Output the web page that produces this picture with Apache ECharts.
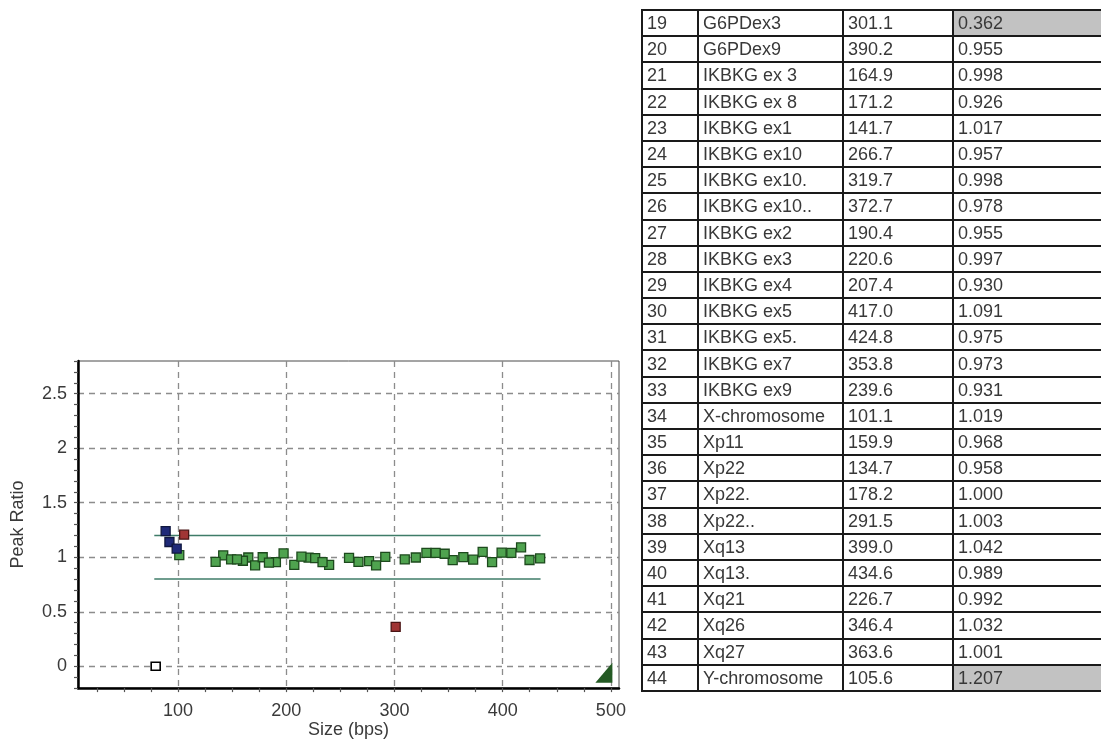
<!DOCTYPE html>
<html><head><meta charset="utf-8">
<script src="https://cdn.jsdelivr.net/npm/echarts@6/dist/echarts.min.js"></script>
<style>
html,body{margin:0;padding:0;width:1101px;height:740px;overflow:hidden;background:#fff;}
#chart{position:absolute;left:0;top:0;width:1101px;height:740px;}
#tbl{position:absolute;left:641px;top:9px;border-collapse:collapse;table-layout:fixed;width:520px;
  font-family:'Liberation Sans',Arial,sans-serif;font-size:18px;color:#383838;}
#tbl td{border:2px solid #1a1a1a;height:24.2px;padding:0 0 0 4px;line-height:22px;white-space:nowrap;overflow:hidden;}
#tbl td.hl{background:#c2c2c2;}
</style>
</head><body>
<div id="chart"></div>
<table id="tbl"><colgroup><col style="width:56px"><col style="width:145px"><col style="width:110px"><col style="width:209px"></colgroup><tbody id="tb"></tbody></table>
<script>
// ---- table rows (visible part of the results table) ----
const rowNumbers = [19,20,21,22,23,24,25,26,27,28,29,30,31,32,33,34,35,36,37,38,39,40,41,42,43,44];
const markerNames = ['G6PDex3','G6PDex9','IKBKG ex 3','IKBKG ex 8','IKBKG ex1','IKBKG ex10','IKBKG ex10.','IKBKG ex10..','IKBKG ex2','IKBKG ex3','IKBKG ex4','IKBKG ex5','IKBKG ex5.','IKBKG ex7','IKBKG ex9','X-chromosome','Xp11','Xp22','Xp22.','Xp22..','Xq13','Xq13.','Xq21','Xq26','Xq27','Y-chromosome'];
const markerSizes = ['301.1','390.2','164.9','171.2','141.7','266.7','319.7','372.7','190.4','220.6','207.4','417.0','424.8','353.8','239.6','101.1','159.9','134.7','178.2','291.5','399.0','434.6','226.7','346.4','363.6','105.6'];
const markerRatios = ['0.362','0.955','0.998','0.926','1.017','0.957','0.998','0.978','0.955','0.997','0.930','1.091','0.975','0.973','0.931','1.019','0.968','0.958','1.000','1.003','1.042','0.989','0.992','1.032','1.001','1.207'];

// ---- points of rows not visible in the table ----
const extraGreenSizes  = [149, 154.5, 184, 197.5, 214, 233.5, 258, 276.5, 283, 309.5, 329.5, 338, 381.5, 408];
const extraGreenRatios = [0.98, 0.98, 0.95, 1.035, 1.005, 0.955, 0.995, 0.965, 0.925, 0.98, 1.04, 1.04, 1.05, 1.04];
const blueSizes  = [88.5, 92, 98.7];
const blueRatios = [1.24, 1.14, 1.08];
const hollowPoint = [[79.3, 0]];
const cornerMark = [[493.5, -0.06]];

// ---- thresholds ----
const upperLimit = [[78, 1.2], [435, 1.2]];
const lowerLimit = [[78, 0.8], [435, 0.8]];

// ---- axis ticks ----
const xMinorTicks = [25,50,75,100,125,150,175,200,225,250,275,300,325,350,375,400,425,450,475,500];
const xTickLabels = [100,200,300,400,500];
const yMinorTicks = [-0.2,-0.1,0,0.1,0.2,0.3,0.4,0.5,0.6,0.7,0.8,0.9,1,1.1,1.2,1.3,1.4,1.5,1.6,1.7,1.8,1.9,2,2.1,2.2,2.3,2.4,2.5,2.6,2.7,2.8];
const yTickLabels = [0,0.5,1,1.5,2,2.5];

// build table
const tb = document.getElementById('tb');
rowNumbers.forEach((n, i) => {
  const r = parseFloat(markerRatios[i]);
  const flag = r < 0.8 || r > 1.2;
  const tr = document.createElement('tr');
  [String(n), markerNames[i], markerSizes[i], markerRatios[i]].forEach((t, j) => {
    const td = document.createElement('td');
    td.textContent = t;
    if (j === 3 && flag) td.className = 'hl';
    tr.appendChild(td);
  });
  tb.appendChild(tr);
});

// classify plotted points
const greenPts = [], redPts = [];
markerSizes.forEach((s, i) => {
  const r = parseFloat(markerRatios[i]);
  const p = [parseFloat(s), r];
  if (r < 0.8 || r > 1.2) redPts.push(p); else greenPts.push(p);
});
extraGreenSizes.forEach((s, i) => greenPts.push([s, extraGreenRatios[i]]));
const bluePts = blueSizes.map((s, i) => [s, blueRatios[i]]);

const font = 'Liberation Sans';
const txt = '#3a3a3a';
const gridLine = {show: true, lineStyle: {type: [6, 5], color: '#8c8c8c', width: 1.3}};
const chart = echarts.init(document.getElementById('chart'), null, {renderer: 'canvas'});
chart.setOption({
  animation: false,
  grid: {left: 78, right: 482, top: 361, bottom: 50, show: true, borderColor: '#4a4a4a', borderWidth: 1, backgroundColor: 'transparent'},
  xAxis: [{
    type: 'value', min: 7.5, max: 507.5,
    name: 'Size (bps)', nameLocation: 'middle', nameGap: 28,
    nameTextStyle: {fontFamily: font, fontSize: 18, color: txt},
    axisLine: {show: true, onZero: false, lineStyle: {color: '#000', width: 2.5}},
    axisTick: {show: true, customValues: xMinorTicks, length: 4, lineStyle: {color: '#555', width: 1.2}},
    axisLabel: {customValues: xTickLabels, margin: 14, fontFamily: font, fontSize: 18, color: txt},
    splitLine: {show: false}
  }, {
    type: 'value', min: 7.5, max: 507.5, position: 'top',
    axisLine: {show: false}, axisLabel: {show: false},
    axisTick: {show: false, customValues: xTickLabels},
    splitLine: gridLine
  }],
  yAxis: [{
    type: 'value', min: -0.2, max: 2.8,
    name: 'Peak Ratio', nameLocation: 'middle', nameGap: 51,
    nameTextStyle: {fontFamily: font, fontSize: 18, color: txt},
    axisLine: {show: true, onZero: false, lineStyle: {color: '#000', width: 2.5}},
    axisTick: {show: true, customValues: yMinorTicks, length: 4, lineStyle: {color: '#555', width: 1.2}},
    axisLabel: {customValues: yTickLabels, margin: 11, fontFamily: font, fontSize: 18, color: txt},
    splitLine: {show: false}
  }, {
    type: 'value', min: -0.2, max: 2.8, position: 'right',
    axisLine: {show: false}, axisLabel: {show: false},
    axisTick: {show: false, customValues: yTickLabels},
    splitLine: gridLine
  }],
  series: [
    {type: 'line', data: upperLimit, showSymbol: false, silent: true, z: 2, lineStyle: {color: '#3f7c68', width: 1.5}},
    {type: 'line', data: lowerLimit, showSymbol: false, silent: true, z: 2, lineStyle: {color: '#3f7c68', width: 1.5}},
    {type: 'scatter', data: greenPts, symbol: 'rect', symbolSize: 9, z: 3,
      itemStyle: {color: '#4fa34f', borderColor: '#1d4a1d', borderWidth: 1.3, opacity: 1}},
    {type: 'scatter', data: bluePts, symbol: 'rect', symbolSize: 9, z: 3,
      itemStyle: {color: '#1f2a78', borderColor: '#10173f', borderWidth: 1.3, opacity: 1}},
    {type: 'scatter', data: redPts, symbol: 'rect', symbolSize: 9, z: 3,
      itemStyle: {color: '#a03535', borderColor: '#4a1515', borderWidth: 1.3, opacity: 1}},
    {type: 'scatter', data: hollowPoint, symbol: 'rect', symbolSize: [9, 8], z: 3,
      itemStyle: {color: '#ffffff', borderColor: '#000', borderWidth: 1.5, opacity: 1}},
    {type: 'scatter', data: cornerMark, symbol: 'path://M0,20 L17,20 L17,0 Z', symbolSize: [17, 20], z: 3,
      itemStyle: {color: '#245a24', opacity: 1}}
  ]
});
</script>
</body></html>
